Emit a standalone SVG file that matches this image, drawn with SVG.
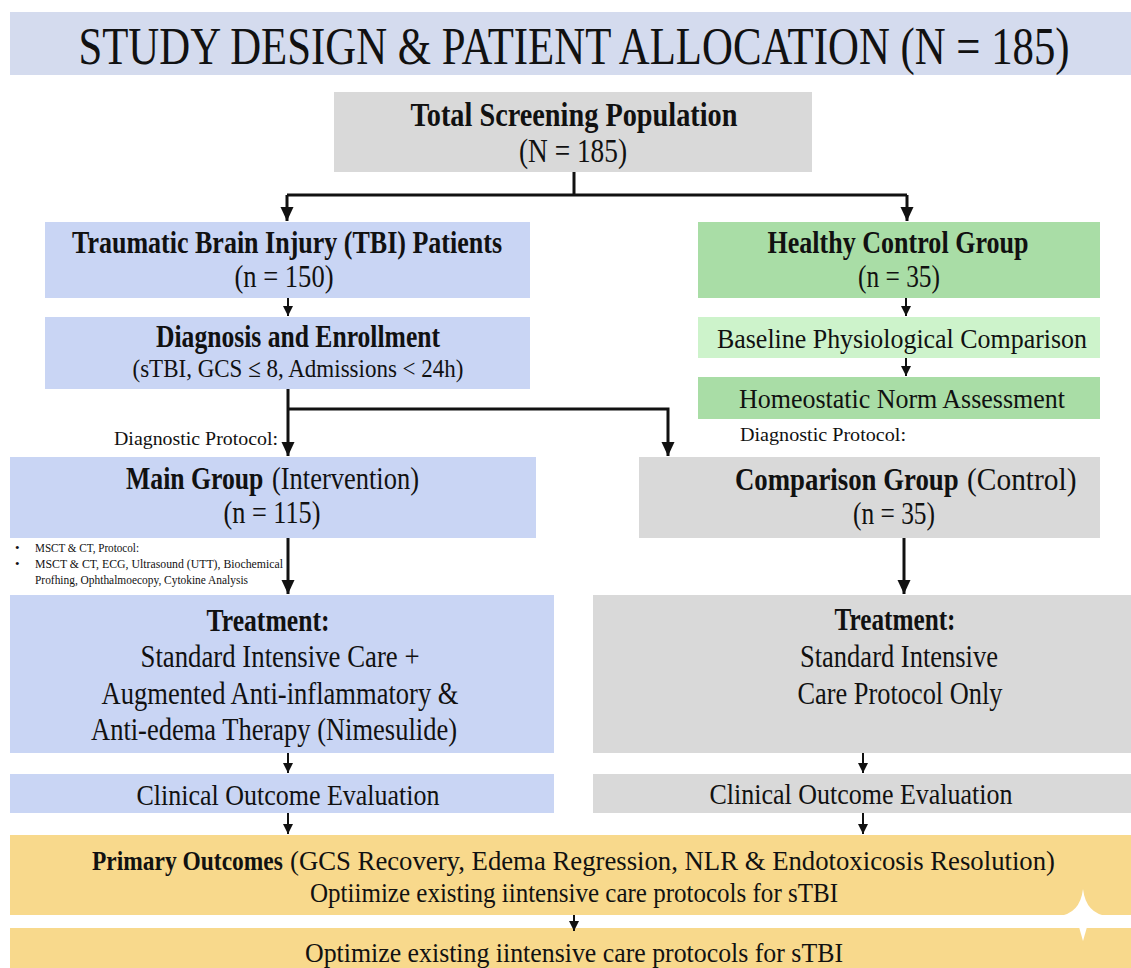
<svg xmlns="http://www.w3.org/2000/svg" width="1131" height="968" viewBox="0 0 1131 968">
  <defs>
    <style>
      text { font-family: "Liberation Serif", "Times New Roman", serif; fill: #111; text-anchor: middle; }
      .b { font-weight: bold; }
      .l { text-anchor: start; }
      .blue { fill: #c9d5f4; }
      .gray { fill: #d9d9d9; }
      .green { fill: #a9dda6; }
      .lgreen { fill: #cdf3cb; }
      .gold { fill: #f8d98c; }
      .ln { fill: none; stroke: #111; stroke-width: 3; }
      .sm { fill: none; stroke: #111; stroke-width: 2; }
    </style>
    <marker id="big" markerUnits="userSpaceOnUse" markerWidth="16" markerHeight="16" viewBox="0 0 16 16" refX="15" refY="8" orient="auto">
      <path d="M1,1.5 L15,8 L1,14.5 Z" fill="#111"/>
    </marker>
    <marker id="small" markerUnits="userSpaceOnUse" markerWidth="12" markerHeight="12" viewBox="0 0 12 12" refX="11" refY="6" orient="auto">
      <path d="M1,1 L11,6 L1,11 Z" fill="#111"/>
    </marker>
  </defs>

  <rect width="1131" height="968" fill="#ffffff"/>

  <!-- title band -->
  <g id="title">
    <rect x="10" y="12" width="1121" height="63" fill="#d4dbee"/>
    <text transform="translate(574,64) scale(0.823,1)" x="0" y="0" font-size="52">STUDY DESIGN &amp; PATIENT ALLOCATION (N = 185)</text>
  </g>

  <g id="screening">
    <rect class="gray" x="334" y="92" width="478" height="80"/>
    <text class="b" x="574" y="126" font-size="34" textLength="327" lengthAdjust="spacingAndGlyphs">Total Screening Population</text>
    <text x="573" y="162" font-size="33" textLength="108" lengthAdjust="spacingAndGlyphs">(N = 185)</text>
  </g>

  <g id="tbi">
    <rect class="blue" x="45" y="222" width="485" height="76"/>
    <text class="b" x="287" y="253" font-size="31" textLength="430" lengthAdjust="spacingAndGlyphs">Traumatic Brain Injury (TBI) Patients</text>
    <text x="284" y="287" font-size="31" textLength="99" lengthAdjust="spacingAndGlyphs">(n = 150)</text>
  </g>

  <g id="diagnosis">
    <rect class="blue" x="45" y="317" width="485" height="72"/>
    <text class="b" x="298" y="347" font-size="31" textLength="284" lengthAdjust="spacingAndGlyphs">Diagnosis and Enrollment</text>
    <text x="298" y="377" font-size="26" textLength="331" lengthAdjust="spacingAndGlyphs">(sTBI, GCS ≤ 8, Admissions &lt; 24h)</text>
  </g>

  <g id="healthy">
    <rect class="green" x="698" y="222" width="402" height="76"/>
    <text class="b" x="898" y="253" font-size="31" textLength="261" lengthAdjust="spacingAndGlyphs">Healthy Control Group</text>
    <text x="899" y="287" font-size="31" textLength="82" lengthAdjust="spacingAndGlyphs">(n = 35)</text>
  </g>

  <g id="baseline">
    <rect class="lgreen" x="698" y="317" width="402" height="41"/>
    <text x="902" y="348" font-size="28" textLength="370" lengthAdjust="spacingAndGlyphs">Baseline Physiological Comparison</text>
  </g>

  <g id="homeostatic">
    <rect class="green" x="698" y="377" width="402" height="42"/>
    <text x="902" y="408" font-size="28" textLength="326" lengthAdjust="spacingAndGlyphs">Homeostatic Norm Assessment</text>
  </g>

  <g id="protocol-labels">
    <text class="l" x="114" y="445" font-size="18" textLength="164" lengthAdjust="spacingAndGlyphs">Diagnostic Protocol:</text>
    <text class="l" x="740" y="441" font-size="18" textLength="166" lengthAdjust="spacingAndGlyphs">Diagnostic Protocol:</text>
  </g>

  <g id="main-group">
    <rect class="blue" x="10" y="457" width="526" height="81"/>
    <text class="l b" transform="translate(126,489) scale(0.83,1)" x="0" y="0" font-size="31">Main Group</text>
    <text class="l" transform="translate(272,489) scale(0.854,1)" x="0" y="0" font-size="31">(Intervention)</text>
    <text x="272" y="523" font-size="31" textLength="97" lengthAdjust="spacingAndGlyphs">(n = 115)</text>
  </g>

  <g id="comparison-group">
    <rect class="gray" x="639" y="457" width="461" height="81"/>
    <text class="l b" transform="translate(735,490) scale(0.865,1)" x="0" y="0" font-size="31">Comparison Group</text>
    <text class="l" transform="translate(967,490) scale(0.95,1)" x="0" y="0" font-size="31">(Control)</text>
    <text x="894" y="524" font-size="31" textLength="82" lengthAdjust="spacingAndGlyphs">(n = 35)</text>
  </g>

  <g id="protocol-list" font-size="13">
    <text class="l" x="15" y="552">•</text>
    <text class="l" x="35" y="552" textLength="104" lengthAdjust="spacingAndGlyphs">MSCT &amp; CT, Protocol:</text>
    <text class="l" x="15" y="568">•</text>
    <text class="l" x="35" y="568" textLength="248" lengthAdjust="spacingAndGlyphs">MSCT &amp; CT, ECG, Ultrasound (UTT), Biochemical</text>
    <text class="l" x="35" y="584" textLength="213" lengthAdjust="spacingAndGlyphs">Profhing, Ophthalmoecopy, Cytokine Analysis</text>
  </g>

  <g id="treatment-main">
    <rect class="blue" x="10" y="595" width="544" height="158"/>
    <text class="b" x="268" y="631" font-size="31" textLength="123" lengthAdjust="spacingAndGlyphs">Treatment:</text>
    <text x="280" y="667" font-size="31" textLength="279" lengthAdjust="spacingAndGlyphs">Standard Intensive Care +</text>
    <text x="280" y="704" font-size="31" textLength="357" lengthAdjust="spacingAndGlyphs">Augmented Anti-inflammatory &amp;</text>
    <text x="274" y="740" font-size="31" textLength="366" lengthAdjust="spacingAndGlyphs">Anti-edema Therapy (Nimesulide)</text>
  </g>

  <g id="treatment-comparison">
    <rect class="gray" x="593" y="595" width="538" height="158"/>
    <text class="b" x="895" y="630" font-size="31" textLength="121" lengthAdjust="spacingAndGlyphs">Treatment:</text>
    <text x="899" y="667" font-size="31" textLength="198" lengthAdjust="spacingAndGlyphs">Standard Intensive</text>
    <text x="900" y="704" font-size="31" textLength="205" lengthAdjust="spacingAndGlyphs">Care Protocol Only</text>
  </g>

  <g id="outcome-main">
    <rect class="blue" x="10" y="774" width="544" height="39"/>
    <text x="288" y="805" font-size="29" textLength="303" lengthAdjust="spacingAndGlyphs">Clinical Outcome Evaluation</text>
  </g>

  <g id="outcome-comparison">
    <rect class="gray" x="593" y="774" width="538" height="39"/>
    <text x="861" y="804" font-size="29" textLength="303" lengthAdjust="spacingAndGlyphs">Clinical Outcome Evaluation</text>
  </g>

  <g id="primary-outcomes">
    <rect class="gold" x="10" y="835" width="1121" height="80"/>
    <text class="l b" transform="translate(92,870) scale(0.838,1)" x="0" y="0" font-size="28">Primary Outcomes</text>
    <text class="l" transform="translate(290,870) scale(0.955,1)" x="0" y="0" font-size="28">(GCS Recovery, Edema Regression, NLR &amp; Endotoxicosis Resolution)</text>
    <text x="574" y="902" font-size="28" textLength="528" lengthAdjust="spacingAndGlyphs">Optiimize existing iintensive care protocols for sTBI</text>
    <path d="M1058,916 Q1080,914 1083,889 Q1086,914 1108,916 Z" fill="#ffffff"/>
  </g>

  <g id="goal">
    <rect class="gold" x="10" y="928" width="1121" height="40"/>
    <path d="M1079,927 L1083,941 L1087,927 Z" fill="#ffffff"/>
    <text x="574" y="962" font-size="28" textLength="538" lengthAdjust="spacingAndGlyphs">Optimize existing iintensive care protocols for sTBI</text>
  </g>

  <!-- connectors -->
  <g id="connectors">
    <polyline class="ln" points="574,172 574,195"/>
    <polyline class="ln" points="287,195 907,195"/>
    <polyline class="ln" points="287,195 287,221" marker-end="url(#big)"/>
    <polyline class="ln" points="907,195 907,221" marker-end="url(#big)"/>
    <polyline class="sm" points="288,298 288,316" marker-end="url(#small)"/>
    <polyline class="sm" points="906,298 906,316" marker-end="url(#small)"/>
    <polyline class="sm" points="906,358 906,376" marker-end="url(#small)"/>
    <polyline class="ln" points="288,389 288,456" marker-end="url(#big)"/>
    <polyline class="ln" points="288,409 668,409 668,456" marker-end="url(#big)"/>
    <polyline class="ln" points="288,538 288,594" marker-end="url(#big)"/>
    <polyline class="ln" points="904,538 904,594" marker-end="url(#big)"/>
    <polyline class="sm" points="288,753 288,773" marker-end="url(#small)"/>
    <polyline class="sm" points="863,753 863,773" marker-end="url(#small)"/>
    <polyline class="sm" points="288,813 288,834" marker-end="url(#small)"/>
    <polyline class="sm" points="863,813 863,834" marker-end="url(#small)"/>
    <polyline class="sm" points="574,915 574,931" marker-end="url(#small)"/>
  </g>
</svg>
